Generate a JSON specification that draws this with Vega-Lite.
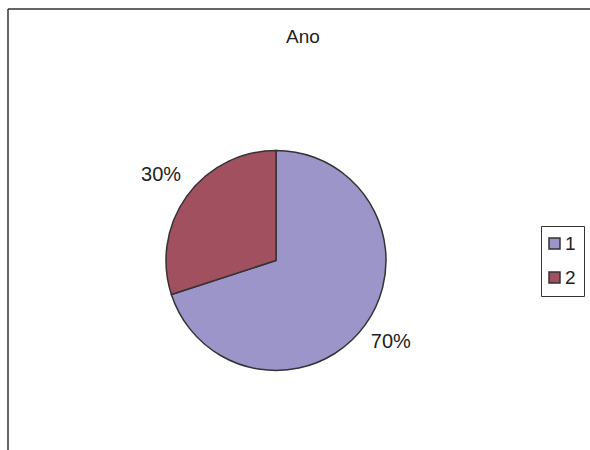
{
  "$schema": "https://vega.github.io/schema/vega-lite/v6.json",
  "width": 582,
  "height": 441,
  "autosize": "none",
  "padding": {"left": 8, "top": 9, "right": 0, "bottom": 0},
  "background": "white",
  "view": {"stroke": "#333333", "strokeWidth": 1.5, "fill": "white", "strokeDash": [582, 1023, 441, 0]},
  "title": {"text": "Ano", "offset": -38, "dx": 4, "fontSize": 19, "fontWeight": "normal", "font": "Liberation Sans", "color": "#222222", "anchor": "middle"},
  "config": {
    "font": "Liberation Sans"
  },
  "data": {"values": [
    {"Ano": "1", "value": 70, "label": "70%"},
    {"Ano": "2", "value": 30, "label": "30%"}
  ]},
  "encoding": {
    "theta": {"field": "value", "type": "quantitative", "stack": true},
    "order": {"field": "Ano", "type": "ordinal"}
  },
  "layer": [
    {
      "mark": {"type": "arc", "outerRadius": 110, "stroke": "#333333", "strokeWidth": 1.5, "xOffset": -23, "yOffset": 31},
      "encoding": {
        "color": {
          "field": "Ano", "type": "nominal",
          "scale": {"domain": ["1", "2"], "range": ["#9b95c9", "#a0505e"]},
          "legend": {
            "title": null,
            "orient": "none",
            "legendX": 533,
            "legendY": 217,
            "symbolType": "square",
            "symbolSize": 121,
            "symbolStrokeColor": "#333333",
            "symbolStrokeWidth": 1.5,
            "symbolOpacity": 1,
            "symbolOffset": -4,
            "labelFontSize": 19,
            "labelFont": "Liberation Sans",
            "labelColor": "#222222",
            "labelOffset": 1,
            "rowPadding": 14,
            "padding": 8,
            "strokeColor": "#333333",
            "fillColor": "white"
          }
        }
      }
    },
    {
      "mark": {"type": "text", "radius": 142, "fontSize": 20, "font": "Liberation Sans", "color": "#222222", "xOffset": -23, "yOffset": 29},
      "encoding": {"text": {"field": "label", "type": "nominal"}}
    }
  ]
}
